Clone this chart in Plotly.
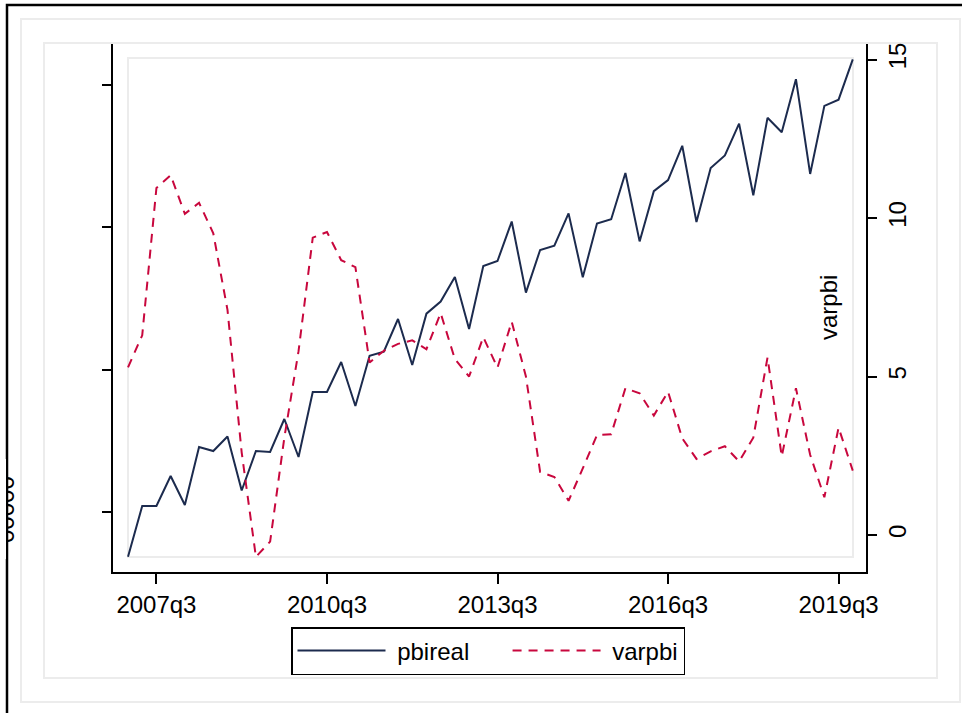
import plotly.graph_objects as go

# ---------------- data ----------------
quarters = [f"{y}q{q}" for y in range(2007, 2020) for q in range(1, 5)]

pbireal = [73700, 80840, 80840, 85060, 80980, 89130, 88570, 90600, 83020, 88570,
           88430, 93070, 87730, 96860, 96860, 101080, 94900, 101960, 102540, 107120,
           100660, 107870, 109580, 113020, 105720, 114570, 115270, 120810, 110830, 116820,
           117410, 121960, 112990, 120530, 121140, 127640, 118020, 125080, 126650, 131460,
           120750, 128340, 130110, 134580, 124500, 135390, 133370, 140820, 127500, 137070,
           137940, 143590]

varpbi = [5.29, 6.30, 10.95, 11.35, 10.13, 10.48, 9.52, 7.1, 2.6, -0.69,
          -0.21, 3.07, 5.8, 9.38, 9.56, 8.67, 8.45, 5.44, 5.81, 6.03,
          6.14, 5.86, 7.0, 5.55, 5.0, 6.24, 5.28, 6.73, 5.0, 1.99,
          1.83, 1.08, 2.1, 3.15, 3.18, 4.63, 4.47, 3.77, 4.52, 3.05,
          2.40, 2.64, 2.80, 2.32, 3.07, 5.60, 2.48, 4.63, 2.53, 1.19,
          3.39, 2.03]

x_ticks = ["2007q3", "2010q3", "2013q3", "2016q3", "2019q3"]
left_ticks = [80000, 100000, 120000, 140000]
right_ticks = [0, 5, 10, 15]

# ---------------- layout helpers ----------------
W, H = 962, 713
L, R, T, B = 113, 866, 44, 572        # plot area on screen (pixels)


def px(x):
    return (x - L) / (R - L)


def py(y):
    return (B - y) / (B - T)


FONT = "Liberation Sans, Arial, sans-serif"
FS = 24
NAVY = "#1c2b4e"
RED = "#c8073d"
GRAY = "#ececec"
NB = "\u00a0"

fig = go.Figure()
fig.add_trace(go.Scatter(x=quarters, y=pbireal, name=NB + "pbireal" + NB * 5, mode="lines",
                         line=dict(color=NAVY, width=2), yaxis="y"))
fig.add_trace(go.Scatter(x=quarters, y=varpbi, name=NB + "varpbi", mode="lines",
                         line=dict(color=RED, width=2, dash="9px,7px"), yaxis="y2"))

axis_common = dict(showgrid=False, zeroline=False, showline=True, linecolor="black",
                   linewidth=2, ticks="outside", tickcolor="black", tickwidth=2,
                   tickfont=dict(family=FONT, size=FS, color="black"))

fig.update_layout(
    width=W, height=H,
    margin=dict(l=L, r=W - R, t=T, b=H - B),
    paper_bgcolor="white", plot_bgcolor="white",
    font=dict(family=FONT, size=FS, color="black"),
    xaxis=dict(type="category", range=[-1.056, 51.93], tickvals=x_ticks,
               ticklen=10, **axis_common),
    yaxis=dict(range=[71569, 145761], tickvals=left_ticks, showticklabels=False,
               ticklen=9, **axis_common),
    yaxis2=dict(overlaying="y", side="right", range=[-1.167, 15.489],
                tickvals=right_ticks, tickangle=-90, ticklen=9, **axis_common),
    legend=dict(orientation="h", x=px(291), y=py(627), xanchor="left", yanchor="top",
                bordercolor="black", borderwidth=1.5, bgcolor="white",
                font=dict(family=FONT, size=FS, color="black"),
                itemwidth=88),
    showlegend=True,
)

shapes = []
# outer black frame (partly outside the image)
shapes.append(dict(type="rect", xref="paper", yref="paper",
                   x0=px(7), x1=px(1000), y0=py(5), y1=py(1000),
                   line=dict(color="black", width=2.5), layer="below"))
# light gray graph-region boxes
shapes.append(dict(type="rect", xref="paper", yref="paper",
                   x0=px(21), x1=px(960), y0=py(19), y1=py(702),
                   line=dict(color=GRAY, width=2), layer="below"))
shapes.append(dict(type="rect", xref="paper", yref="paper",
                   x0=px(44), x1=px(937), y0=py(43), y1=py(678),
                   line=dict(color=GRAY, width=2), layer="below"))
# inner plot-region box
shapes.append(dict(type="rect", xref="paper", yref="paper",
                   x0=px(128), x1=px(853), y0=py(58), y1=py(557),
                   line=dict(color=GRAY, width=2), layer="below"))
fig.update_layout(shapes=shapes)

annotations = [
    dict(text="varpbi", textangle=-90, xref="paper", yref="paper",
         x=px(828), y=py(308), xanchor="center", yanchor="middle", showarrow=False,
         font=dict(family=FONT, size=FS, color="black")),
    # clipped left-axis label remnant visible at the left edge (as in the reference)
    dict(text="00000", textangle=-90, xref="paper", yref="paper",
         x=px(6), y=py(509), xanchor="center", yanchor="middle", showarrow=False,
         font=dict(family=FONT, size=FS, color="black")),
    dict(text=" ", xref="paper", yref="paper", x=px(2.75), y=py(509),
         xanchor="center", yanchor="middle",
         width=5.5, height=100, bgcolor="white", borderpad=0, borderwidth=0,
         showarrow=False),
]
fig.update_layout(annotations=annotations)

fig.write_html("out.html", config={"displayModeBar": False},
               post_script="document.body.style.margin='0px';")
